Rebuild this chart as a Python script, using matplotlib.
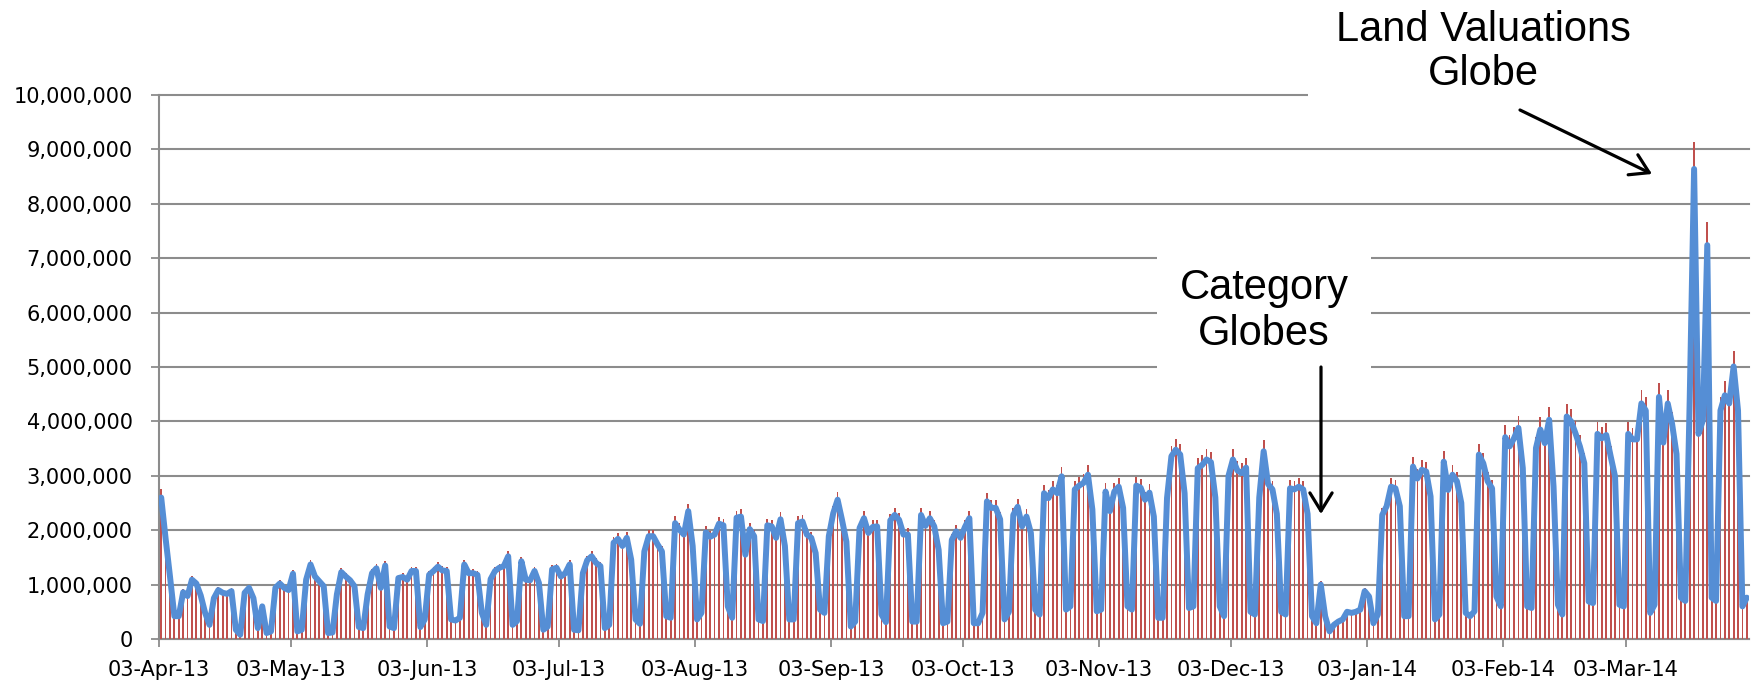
import datetime as dt
import numpy as np
import matplotlib
matplotlib.use("Agg")
import matplotlib.pyplot as plt
import matplotlib.dates as mdates
from matplotlib.patches import Rectangle
from matplotlib.ticker import FuncFormatter

# ------- data (daily values, millions), first day 03-Apr-13 -------
start = dt.date(2013, 4, 3)
end = dt.date(2014, 3, 31)
daily_views_m = [
    2.6, 1.85, 1.15, 0.42, 0.42,
    0.86, 0.79, 1.09, 1.02, 0.8, 0.48, 0.26,
    0.75, 0.9, 0.85, 0.83, 0.88, 0.17, 0.08,
    0.85, 0.94, 0.75, 0.2, 0.6, 0.11, 0.14,
    0.94, 1.02, 0.94, 0.9, 1.2, 0.14, 0.17,
    1.09, 1.37, 1.15, 1.06, 0.97, 0.11, 0.12,
    0.82, 1.23, 1.15, 1.08, 0.97, 0.22, 0.2,
    0.82, 1.21, 1.3, 0.94, 1.35, 0.23, 0.2,
    1.12, 1.14, 1.09, 1.25, 1.25, 0.22, 0.36,
    1.18, 1.25, 1.33, 1.26, 1.25, 0.36, 0.34,
    0.39, 1.37, 1.21, 1.21, 1.18, 0.48, 0.26,
    1.1, 1.25, 1.31, 1.34, 1.52, 0.26, 0.33,
    1.43, 1.09, 1.08, 1.25, 1.03, 0.17, 0.23,
    1.28, 1.31, 1.15, 1.21, 1.37, 0.17, 0.16,
    1.21, 1.45, 1.52, 1.4, 1.34, 0.2, 0.26,
    1.77, 1.84, 1.71, 1.86, 1.46, 0.36, 0.28,
    1.61, 1.89, 1.89, 1.74, 1.61, 0.42, 0.39,
    2.13, 2.01, 1.92, 2.35, 1.71, 0.36, 0.48,
    1.96, 1.88, 1.92, 2.12, 2.09, 0.6, 0.39,
    2.23, 2.25, 1.55, 2.02, 1.89, 0.36, 0.33,
    2.09, 2.07, 1.86, 2.2, 1.71, 0.36, 0.36,
    2.13, 2.16, 1.92, 1.86, 1.58, 0.54, 0.48,
    1.89, 2.31, 2.56, 2.19, 1.79, 0.23, 0.32,
    2.04, 2.22, 1.95, 2.06, 2.07, 0.45, 0.31,
    2.18, 2.28, 2.19, 1.92, 1.92, 0.32, 0.32,
    2.28, 2.08, 2.22, 2.07, 1.64, 0.29, 0.32,
    1.82, 1.98, 1.86, 2.06, 2.22, 0.29, 0.29,
    0.48, 2.53, 2.41, 2.41, 2.2, 0.36, 0.5,
    2.28, 2.43, 2.07, 2.25, 1.95, 0.54, 0.45,
    2.68, 2.59, 2.75, 2.68, 2.99, 0.54, 0.6,
    2.75, 2.82, 2.87, 3.02, 2.38, 0.51, 0.54,
    2.71, 2.35, 2.71, 2.8, 2.41, 0.6, 0.54,
    2.82, 2.78, 2.56, 2.69, 2.25, 0.39, 0.39,
    2.59, 3.36, 3.48, 3.39, 2.68, 0.57, 0.6,
    3.14, 3.2, 3.3, 3.25, 2.6, 0.6, 0.42,
    3.0, 3.3, 3.1, 3.05, 3.15, 0.5, 0.45,
    2.6, 3.45, 2.85, 2.75, 2.3, 0.5, 0.45,
    2.77, 2.75, 2.8, 2.75, 2.3, 0.42, 0.29,
    1.0, 0.42, 0.14, 0.26, 0.32, 0.36, 0.5,
    0.48, 0.5, 0.54, 0.88, 0.78, 0.29, 0.45,
    2.28, 2.44, 2.8, 2.77, 2.44, 0.42, 0.42,
    3.17, 2.95, 3.11, 3.08, 2.62, 0.36, 0.45,
    3.26, 2.74, 3.02, 2.9, 2.5, 0.48, 0.42,
    0.51, 3.39, 3.23, 2.9, 2.77, 0.78, 0.6,
    3.71, 3.54, 3.69, 3.88, 3.14, 0.6, 0.57,
    3.51, 3.85, 3.6, 4.03, 2.8, 0.63, 0.45,
    4.09, 4.0, 3.78, 3.54, 3.23, 0.69, 0.66,
    3.77, 3.69, 3.75, 3.36, 2.99, 0.63, 0.6,
    3.77, 3.67, 3.67, 4.33, 4.2, 0.48, 0.63,
    4.45, 3.61, 4.33, 3.95, 3.4, 0.76, 0.7,
    4.4, 8.64, 3.77, 4.02, 7.24, 0.76, 0.7,
    4.2, 4.48, 4.33, 5.01, 4.2, 0.6, 0.76,
]
tick_dates = [dt.date(2013, m, 3) for m in range(4, 13)] + [dt.date(2014, m, 3) for m in range(1, 4)]
tick_labels = ['03-Apr-13', '03-May-13', '03-Jun-13', '03-Jul-13', '03-Aug-13', '03-Sep-13',
               '03-Oct-13', '03-Nov-13', '03-Dec-13', '03-Jan-14', '03-Feb-14', '03-Mar-14']

days = mdates.date2num([start + dt.timedelta(days=i) for i in range(len(daily_views_m))]) + 0.5
views = np.array(daily_views_m) * 1e6

W, H = 1756, 687
fig = plt.figure(figsize=(W / 100, H / 100), dpi=100)
ax = fig.add_axes([159 / W, 48 / H, 1590 / W, 544 / H])
ax.set_xlim(mdates.date2num(start), mdates.date2num(end))
ax.set_ylim(0, 1e7)

grey = '#8c8c8c'
ax.set_yticks(np.arange(0, 1e7 + 1, 1e6))
ax.yaxis.set_major_formatter(FuncFormatter(lambda v, p: f'{v:,.0f}'))
ax.set_xticks(mdates.date2num(tick_dates))
ax.set_xticklabels(tick_labels)
ax.grid(axis='y', color=grey, lw=1.5)
for gl in ax.get_ygridlines():
    gl.set_clip_on(False)
ax.set_axisbelow(True)
ax.tick_params(axis='y', direction='out', length=6, width=1.3, color=grey, pad=13, labelsize=15)
ax.tick_params(axis='x', direction='out', length=6, width=1.3, color=grey, pad=9, labelsize=15)
for s in ['top', 'right']:
    ax.spines[s].set_visible(False)
for s in ['left', 'bottom']:
    ax.spines[s].set_color(grey)
    ax.spines[s].set_linewidth(1.5)

# bars sit on a hidden secondary scale (a bit taller than the line)
axb = ax.twinx()
axb.set_ylim(0, 9.45e6)
axb.bar(days, views, width=0.4, color='#C0504D', linewidth=0)
axb.axis('off')

axl = ax.twinx()
axl.set_ylim(0, 1e7)
axl.plot(days, views, color='#558ED5', lw=4.3, solid_joinstyle='round', solid_capstyle='round')
axl.axis('off')

# annotations (figure pixel coords, origin bottom-left)
axl.add_patch(Rectangle((1308 / W, 562 / H), 448 / W, 125 / H, transform=fig.transFigure,
                        facecolor='white', edgecolor='none', zorder=3, clip_on=False))
axl.annotate('Land Valuations\nGlobe', xy=(1483, 635), xycoords='figure pixels',
             ha='center', va='center', fontsize=30, family='Liberation Sans',
             linespacing=1.15, zorder=6, annotation_clip=False)
axl.annotate('Category\nGlobes', xy=(1264, 376), xycoords='figure pixels',
             ha='center', va='center', fontsize=30, family='Liberation Sans',
             linespacing=1.2, zorder=6, annotation_clip=False,
             bbox=dict(boxstyle='square,pad=0.55', fc='white', ec='none'))
arrow = dict(arrowstyle='->,head_length=0.65,head_width=0.4', color='black', lw=2.3,
             shrinkA=0, shrinkB=0, mutation_scale=20)
axl.annotate('', xy=(1652, 513), xycoords='figure pixels', xytext=(1520, 577),
             textcoords='figure pixels', arrowprops=arrow, zorder=7, annotation_clip=False)
axl.annotate('', xy=(1321, 173), xycoords='figure pixels', xytext=(1321, 320),
             textcoords='figure pixels', arrowprops=arrow, zorder=7, annotation_clip=False)

fig.savefig('out.png', dpi=100)
